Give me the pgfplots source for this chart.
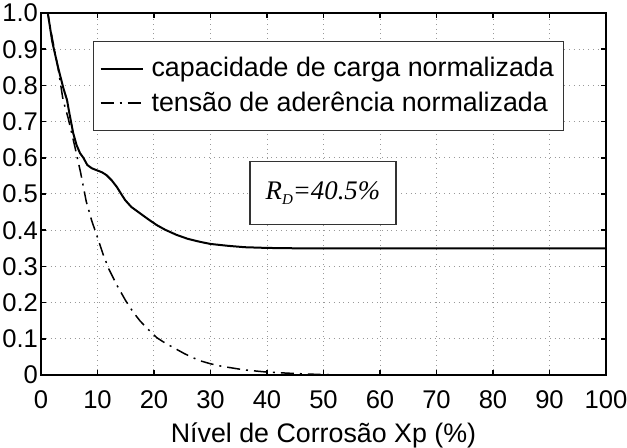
\documentclass[border=0pt]{standalone}
\usepackage{pgfplots}
\pgfplotsset{compat=1.18}
\usepackage{fontspec}
\setmainfont{Liberation Sans}
\newfontfamily\serifit{Liberation Serif}
\begin{document}
\begin{tikzpicture}
\useasboundingbox (-20.5pt,-36.5pt) rectangle (293pt,187.5pt);
\begin{axis}[
  scale only axis,
  width=282.5pt, height=181pt,
  xmin=0, xmax=100, ymin=0, ymax=1,
  xtick={0,10,...,100},
  ytick={0,0.1,...,1.0},
  yticklabels={0,0.1,0.2,0.3,0.4,0.5,0.6,0.7,0.8,0.9,1.0},
  /pgf/number format/assume math mode=true,
  tick label style={font=\fontsize{12.8}{15}\selectfont},
  xticklabel style={yshift=-4.5pt},
  yticklabel style={xshift=2pt},
  xlabel={Nível de Corrosão Xp (\%)},
  xlabel style={font=\fontsize{13.4}{15}\selectfont, yshift=0pt},
  tick align=inside,
  major tick length=2.5pt,
  tick style={black, line width=0.8pt},
  grid=major,
  major grid style={dotted, gray!80, line width=0.5pt},
  axis line style={line width=1pt},
  legend style={at={(axis cs:9.2,0.923)}, anchor=north west,
    font=\fontsize{13.4}{15}\selectfont, draw=black!80, line width=0.6pt,
    inner xsep=3pt, inner ysep=6pt, row sep=2pt},
  legend cell align=left,
  legend image code/.code={\draw[#1] (5.5pt,0pt) -- (26.5pt,0pt); \path (28.5pt,0pt);},
]
\addplot[black, line width=1pt] coordinates {
(0,1.0)(1.2,1.0)(2,0.92)(3,0.851)(4,0.79)(4.6,0.76)(5,0.725)(5.7,0.668)(6.3,0.635)(6.9,0.613)(7.5,0.60)(8.2,0.58)(9,0.571)(9.8,0.566)(10.8,0.56)(11.6,0.552)(12.5,0.538)(13.4,0.52)(14.2,0.50)(14.9,0.483)(16,0.464)(17.5,0.447)(19,0.43)(20.5,0.414)(22,0.401)(24,0.387)(26,0.376)(28.1,0.368)(30,0.362)(33,0.357)(36,0.353)(40,0.351)(45,0.35)(100,0.35)
};
\addlegendentry{capacidade de carga normalizada}
\addplot[black, line width=0.75pt, dash pattern=on 6.5pt off 3pt on 1pt off 3pt] coordinates {
(0,1.0)(1.2,1.0)(2,0.93)(3,0.85)(3.9,0.76)(4.8,0.71)(6,0.63)(7,0.56)(8,0.48)(9,0.425)(10,0.38)(11,0.333)(12,0.293)(13.4,0.249)(15,0.205)(16.3,0.174)(17.5,0.15)(18.7,0.13)(20.5,0.103)(22,0.088)(23.4,0.076)(25.5,0.058)(28,0.04)(30,0.031)(32,0.024)(36,0.014)(40,0.008)(45,0.004)(50,0.001)(55,0)(100,0)
};
\addlegendentry{tensão de aderência normalizada}
\node[draw=black!80, line width=0.6pt, fill=white, minimum width=73pt, minimum height=31.5pt, inner sep=0pt,
  font=\serifit\itshape\fontsize{13.4}{15}\selectfont] at (axis cs:49.9,0.503) {R\raisebox{-2.5pt}{\fontsize{7.5}{8}\selectfont D}=40.5\%};
\end{axis}
\end{tikzpicture}
\end{document}
